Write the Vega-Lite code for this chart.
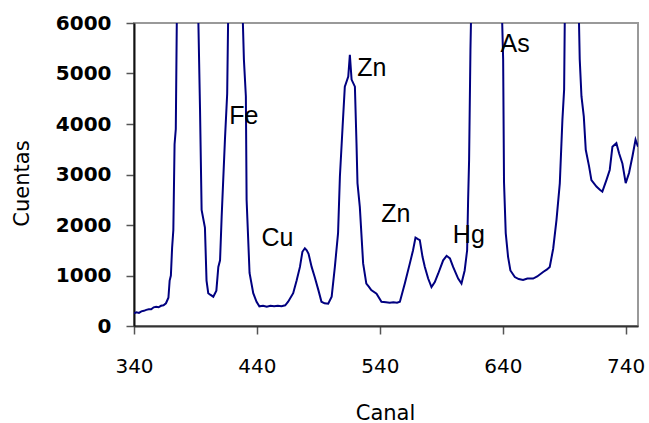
{
  "$schema": "https://vega.github.io/schema/vega-lite/v6.json",
  "width": 504,
  "height": 303,
  "autosize": "none",
  "padding": {"left": 134, "top": 23, "right": 11, "bottom": 97},
  "background": "white",
  "config": {
    "view": {"stroke": "#999999", "strokeWidth": 2},
    "axis": {"grid": false}
  },
  "datasets": {
    "spectrum": [
      {"canal": 340, "cuentas": 250}, {"canal": 342, "cuentas": 270}, {"canal": 344, "cuentas": 260},
      {"canal": 346, "cuentas": 290}, {"canal": 348, "cuentas": 300}, {"canal": 350, "cuentas": 320},
      {"canal": 352, "cuentas": 330}, {"canal": 354, "cuentas": 330}, {"canal": 356, "cuentas": 370},
      {"canal": 358, "cuentas": 380}, {"canal": 360, "cuentas": 370}, {"canal": 362, "cuentas": 400},
      {"canal": 364, "cuentas": 410}, {"canal": 366, "cuentas": 450}, {"canal": 368, "cuentas": 560},
      {"canal": 369, "cuentas": 900}, {"canal": 370, "cuentas": 1000}, {"canal": 371, "cuentas": 1550},
      {"canal": 372, "cuentas": 1900}, {"canal": 373, "cuentas": 3600}, {"canal": 374, "cuentas": 3900},
      {"canal": 375, "cuentas": 6500}, {"canal": 383, "cuentas": 20000}, {"canal": 392, "cuentas": 6500},
      {"canal": 393.7, "cuentas": 4300}, {"canal": 395, "cuentas": 2300}, {"canal": 397.7, "cuentas": 1950},
      {"canal": 399, "cuentas": 900}, {"canal": 400.4, "cuentas": 650}, {"canal": 402, "cuentas": 620},
      {"canal": 404.5, "cuentas": 580}, {"canal": 407, "cuentas": 700}, {"canal": 408.6, "cuentas": 1170},
      {"canal": 410, "cuentas": 1300}, {"canal": 411.3, "cuentas": 2160}, {"canal": 414, "cuentas": 3700},
      {"canal": 415.8, "cuentas": 4600}, {"canal": 416.8, "cuentas": 6500}, {"canal": 422, "cuentas": 15000},
      {"canal": 428, "cuentas": 6500}, {"canal": 429.4, "cuentas": 5280}, {"canal": 431, "cuentas": 4550},
      {"canal": 431.6, "cuentas": 2500}, {"canal": 434, "cuentas": 1050}, {"canal": 437, "cuentas": 650},
      {"canal": 439.7, "cuentas": 480}, {"canal": 442, "cuentas": 390}, {"canal": 445, "cuentas": 400},
      {"canal": 448, "cuentas": 380}, {"canal": 451, "cuentas": 400}, {"canal": 454, "cuentas": 390},
      {"canal": 457, "cuentas": 400}, {"canal": 460, "cuentas": 390}, {"canal": 463, "cuentas": 410},
      {"canal": 465.4, "cuentas": 480}, {"canal": 469.5, "cuentas": 650}, {"canal": 472.3, "cuentas": 900},
      {"canal": 475, "cuentas": 1170}, {"canal": 477, "cuentas": 1470}, {"canal": 479, "cuentas": 1540},
      {"canal": 480.5, "cuentas": 1500}, {"canal": 482, "cuentas": 1430}, {"canal": 484.5, "cuentas": 1170},
      {"canal": 487, "cuentas": 970}, {"canal": 490, "cuentas": 710}, {"canal": 492.5, "cuentas": 480},
      {"canal": 495, "cuentas": 450}, {"canal": 498, "cuentas": 440}, {"canal": 500.8, "cuentas": 580},
      {"canal": 503.4, "cuentas": 1170}, {"canal": 506, "cuentas": 1840}, {"canal": 507.5, "cuentas": 2960},
      {"canal": 509.7, "cuentas": 3950}, {"canal": 511.5, "cuentas": 4740}, {"canal": 514.3, "cuentas": 4940},
      {"canal": 515.6, "cuentas": 5370}, {"canal": 517, "cuentas": 4880}, {"canal": 519.7, "cuentas": 4740},
      {"canal": 521, "cuentas": 3620}, {"canal": 521.8, "cuentas": 2830}, {"canal": 523.7, "cuentas": 2360},
      {"canal": 526.4, "cuentas": 1240}, {"canal": 529, "cuentas": 840}, {"canal": 531, "cuentas": 780},
      {"canal": 533, "cuentas": 710}, {"canal": 537.3, "cuentas": 640}, {"canal": 541.3, "cuentas": 480},
      {"canal": 545, "cuentas": 470}, {"canal": 548, "cuentas": 460}, {"canal": 551, "cuentas": 470},
      {"canal": 554, "cuentas": 460}, {"canal": 556.3, "cuentas": 480}, {"canal": 560.3, "cuentas": 840},
      {"canal": 564.4, "cuentas": 1240}, {"canal": 567, "cuentas": 1500}, {"canal": 569, "cuentas": 1750},
      {"canal": 571, "cuentas": 1720}, {"canal": 572.5, "cuentas": 1700}, {"canal": 574.7, "cuentas": 1370},
      {"canal": 576.6, "cuentas": 1170}, {"canal": 579.3, "cuentas": 940}, {"canal": 582, "cuentas": 770},
      {"canal": 584.7, "cuentas": 870}, {"canal": 587.5, "cuentas": 1040}, {"canal": 591.5, "cuentas": 1300},
      {"canal": 594.3, "cuentas": 1390}, {"canal": 597, "cuentas": 1340}, {"canal": 599.6, "cuentas": 1170},
      {"canal": 603.7, "cuentas": 940}, {"canal": 606.4, "cuentas": 840}, {"canal": 609, "cuentas": 1100},
      {"canal": 611, "cuentas": 1500}, {"canal": 611.8, "cuentas": 2500}, {"canal": 612.6, "cuentas": 3290},
      {"canal": 613.7, "cuentas": 5470}, {"canal": 614.5, "cuentas": 6500}, {"canal": 626, "cuentas": 30000},
      {"canal": 639, "cuentas": 6500}, {"canal": 640.3, "cuentas": 5280}, {"canal": 641, "cuentas": 2850},
      {"canal": 642.4, "cuentas": 1840}, {"canal": 644.3, "cuentas": 1370}, {"canal": 646.2, "cuentas": 1100},
      {"canal": 649.8, "cuentas": 970}, {"canal": 653, "cuentas": 930}, {"canal": 656.5, "cuentas": 910},
      {"canal": 660, "cuentas": 940}, {"canal": 664.7, "cuentas": 940}, {"canal": 668, "cuentas": 980},
      {"canal": 672.8, "cuentas": 1070}, {"canal": 676, "cuentas": 1120}, {"canal": 678.2, "cuentas": 1170},
      {"canal": 681, "cuentas": 1530}, {"canal": 683.7, "cuentas": 2100}, {"canal": 686.4, "cuentas": 2830},
      {"canal": 688.5, "cuentas": 4080}, {"canal": 689.9, "cuentas": 4680}, {"canal": 690.6, "cuentas": 6500},
      {"canal": 696, "cuentas": 25000}, {"canal": 701.6, "cuentas": 6500}, {"canal": 702.6, "cuentas": 5280},
      {"canal": 704, "cuentas": 4550}, {"canal": 705.9, "cuentas": 4150}, {"canal": 707.5, "cuentas": 3490},
      {"canal": 710.2, "cuentas": 3160}, {"canal": 712.1, "cuentas": 2890}, {"canal": 716.2, "cuentas": 2760},
      {"canal": 719, "cuentas": 2700}, {"canal": 721, "cuentas": 2660}, {"canal": 724.3, "cuentas": 2890},
      {"canal": 727, "cuentas": 3090}, {"canal": 729.2, "cuentas": 3550}, {"canal": 732.4, "cuentas": 3620},
      {"canal": 734.6, "cuentas": 3420}, {"canal": 737.3, "cuentas": 3220}, {"canal": 740, "cuentas": 2830},
      {"canal": 742.7, "cuentas": 3030}, {"canal": 745.5, "cuentas": 3360}, {"canal": 748, "cuentas": 3690},
      {"canal": 750, "cuentas": 3550}
    ],
    "labels": [
      {"label": "Fe", "canal": 429.4, "cuentas": 4163},
      {"label": "Cu", "canal": 456.7, "cuentas": 1751},
      {"label": "Zn", "canal": 533.5, "cuentas": 5115},
      {"label": "Zn", "canal": 553, "cuentas": 2227},
      {"label": "Hg", "canal": 612.4, "cuentas": 1810},
      {"label": "As", "canal": 650, "cuentas": 5590}
    ]
  },
  "layer": [
    {
      "data": {"name": "spectrum"},
      "mark": {"type": "line", "color": "#000080", "strokeWidth": 2, "clip": true, "interpolate": "linear"},
      "encoding": {
        "x": {
          "field": "canal", "type": "quantitative",
          "scale": {"domain": [340, 750], "nice": false, "zero": false},
          "axis": {
            "title": "Canal", "values": [340, 440, 540, 640, 740], "format": "d",
            "labelFlush": false, "labelOverlap": false,
            "domainColor": "#333333", "domainWidth": 2, "tickColor": "#555555", "tickWidth": 1.5, "tickSize": 8,
            "labelFont": "DejaVu Sans", "labelFontSize": 20, "labelColor": "#000000", "labelPadding": 22,
            "titleFont": "DejaVu Sans", "titleFontSize": 21, "titleFontWeight": "normal", "titleColor": "#000000",
            "titleX": 251, "titleY": 87, "titleBaseline": "middle", "titleAlign": "center"
          }
        },
        "y": {
          "field": "cuentas", "type": "quantitative",
          "scale": {"domain": [0, 6000], "nice": false},
          "axis": {
            "title": "Cuentas", "values": [0, 1000, 2000, 3000, 4000, 5000, 6000], "format": "d",
            "labelFlush": false, "labelOverlap": false,
            "domainColor": "#111111", "domainWidth": 2, "tickColor": "#555555", "tickWidth": 1.5, "tickSize": 8,
            "labelFont": "DejaVu Sans", "labelFontSize": 20, "labelFontWeight": "bold", "labelColor": "#000000", "labelPadding": 15,
            "titleFont": "DejaVu Sans", "titleFontSize": 21, "titleFontWeight": "normal", "titleColor": "#000000",
            "titleX": -112, "titleY": 160, "titleAngle": -90, "titleBaseline": "middle", "titleAlign": "center"
          }
        }
      }
    },
    {
      "data": {"name": "labels"},
      "mark": {"type": "text", "font": "Liberation Sans", "fontSize": 25, "color": "#000000", "align": "center", "baseline": "middle"},
      "encoding": {
        "x": {"field": "canal", "type": "quantitative"},
        "y": {"field": "cuentas", "type": "quantitative"},
        "text": {"field": "label"}
      }
    }
  ]
}
